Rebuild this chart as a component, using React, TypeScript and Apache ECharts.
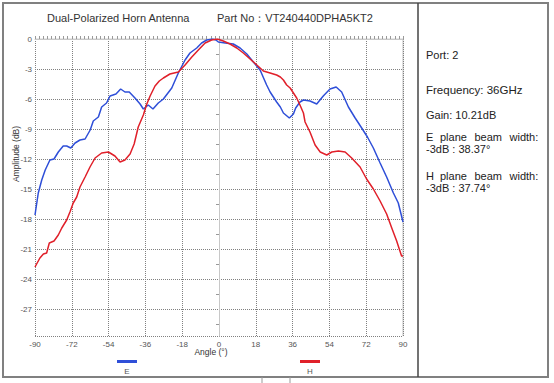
import React, { useEffect, useRef } from "react";
import * as echarts from "echarts";

const eAngles = [-90, -88.4, -86.7, -85, -82.7, -80.7, -78.6, -76.2, -74.5, -72.5, -70.4, -68, -65.5, -63, -61.5, -59, -57.4, -55, -53.3, -50.4, -48.1, -46, -43.9, -41.1, -38.6, -37, -34.6, -32.3, -29.7, -27.2, -23.1, -19.9, -16.6, -14.2, -10.9, -8.5, -6, -3.1, -1.5, -0.3, 3, 7, 10.3, 13.6, 16.8, 20.1, 23.3, 25, 28.2, 30, 31.5, 34.4, 36.4, 37.5, 39.6, 41.3, 44.5, 47.8, 51, 54.3, 57.3, 60, 63.3, 66.6, 69.8, 72.6, 75.5, 78.8, 82, 85.3, 87.7, 90];
const eValues = [-17.6, -15.4, -14.1, -13.1, -12.1, -12.0, -11.3, -10.7, -10.7, -10.9, -10.4, -10.1, -10.0, -9.1, -8.2, -7.8, -6.8, -6.4, -5.7, -5.5, -5.0, -5.3, -5.3, -5.9, -6.5, -7.0, -6.6, -7.0, -6.4, -6.0, -4.9, -3.4, -2.1, -1.4, -0.9, -0.4, -0.1, 0, -0.1, -0.3, -0.4, -0.5, -0.9, -1.5, -2.3, -3.1, -4.6, -5.3, -6.3, -6.8, -7.4, -7.9, -7.5, -6.9, -6.3, -6.1, -6.2, -6.5, -5.7, -5.0, -4.8, -5.3, -6.8, -7.9, -8.9, -9.8, -10.9, -12.4, -13.8, -15.4, -16.4, -18.3];

const hAngles = [-90, -87.6, -85.9, -84.3, -83, -80.7, -78.6, -76.9, -74.5, -72.9, -71.3, -69.6, -68, -65.5, -63.1, -60.6, -57.4, -54.1, -50.9, -48.4, -46, -43.5, -41.5, -39.5, -37, -35.5, -33.7, -31.3, -29.2, -27.2, -24, -19.9, -16.6, -13.3, -10.1, -6.8, -3.6, -0.8, 2.1, 5.4, 8.7, 11.9, 15.2, 18.5, 21.7, 25, 28.2, 30, 31.5, 33.1, 34.8, 36.4, 38, 39.6, 41.3, 42.1, 44.5, 47, 49.5, 52.7, 55.2, 58.4, 61.7, 64.9, 69, 72.2, 75.5, 78.8, 82, 84.5, 86.9, 88.5, 89.3, 90];
const hValues = [-22.8, -21.9, -21.5, -21.4, -20.4, -20.2, -19.6, -18.9, -18.1, -17.3, -16.4, -15.8, -14.8, -13.8, -12.8, -11.9, -11.4, -11.3, -11.7, -12.3, -12.1, -11.5, -10.5, -8.8, -7.6, -6.6, -5.7, -4.7, -4.2, -3.9, -3.5, -3.3, -2.6, -1.8, -1.1, -0.4, -0.1, 0, -0.2, -0.5, -0.9, -1.4, -2.0, -2.6, -3.2, -3.4, -3.6, -3.8, -4.1, -4.6, -4.9, -5.4, -5.9, -6.6, -7.4, -8.3, -9.3, -10.6, -11.3, -11.6, -11.3, -11.2, -11.3, -11.9, -12.8, -14.0, -15.0, -16.2, -17.5, -18.9, -20.2, -21.2, -21.7, -21.7];

const seriesNames = ["E", "H"];
const seriesColors = ["#2f4fd8", "#e0202a"];
const titleText = "Dual-Polarized Horn Antenna";
const partText = "Part No：VT240440DPHA5KT2";
const infoPort = "Port: 2";
const infoFreq = "Frequency: 36GHz";
const infoGain = "Gain: 10.21dB";
const infoEWords = ["E", "plane", "beam", "width:"];
const infoEValue = "-3dB : 38.37°";
const infoHWords = ["H", "plane", "beam", "width:"];
const infoHValue = "-3dB : 37.74°";

export default function App() {
  const ref = useRef<HTMLDivElement>(null);
  useEffect(() => {
    if (!ref.current) return;
    const chart = echarts.init(ref.current, undefined, { renderer: "svg" });
    const font = "Liberation Sans, Arial, sans-serif";
    const txt = (x: number, y: number, text: string, size: number, color: string, align = "left") => ({
      type: "text",
      x,
      y,
      style: { text, fontSize: size, lineHeight: size, fill: color, fontFamily: font, align, verticalAlign: "middle" },
    });
    const wordsX = [426, 440, 474.5, 509.5];
    chart.setOption({
      animation: false,
      backgroundColor: "#ffffff",
      grid: { left: 35, right: 151, top: 39, bottom: 47, show: false },
      xAxis: {
        type: "value",
        min: -90,
        max: 90,
        interval: 18,
        axisLine: { show: true, lineStyle: { color: "#c8c8c8", width: 1 } },
        axisTick: { show: true, inside: true, length: 3, lineStyle: { color: "#999" } },
        minorTick: { show: true, splitNumber: 9, length: 3, lineStyle: { color: "#999" } },
        axisLabel: { fontSize: 8, color: "#555", margin: 4, fontFamily: font },
        splitLine: { show: true, lineStyle: { type: "dotted", color: "#808080", width: 1 } },
      },
      yAxis: {
        type: "value",
        min: -29.7,
        max: 0,
        splitNumber: 10,
        axisLine: { show: true, lineStyle: { color: "#c8c8c8", width: 1 } },
        axisTick: { show: false },
        minorTick: { show: true, splitNumber: 2, length: 3, lineStyle: { color: "#999" } },
        axisLabel: {
          fontSize: 8,
          color: "#555",
          margin: 3,
          fontFamily: font,
          formatter: (v: number) => (Math.abs(Math.round(v) - v) < 1e-6 && Math.round(v) % 3 === 0 ? String(Math.round(v)) : ""),
        },
        splitLine: { show: true, lineStyle: { type: "dotted", color: "#808080", width: 1 } },
      },
      series: [
        {
          name: seriesNames[0],
          type: "line",
          showSymbol: false,
          data: eAngles.map((a, i) => [a, eValues[i]]),
          lineStyle: { color: seriesColors[0], width: 1.5 },
          itemStyle: { color: seriesColors[0] },
        },
        {
          name: seriesNames[1],
          type: "line",
          showSymbol: false,
          data: hAngles.map((a, i) => [a, hValues[i]]),
          lineStyle: { color: seriesColors[1], width: 1.5 },
          itemStyle: { color: seriesColors[1] },
        },
      ],
      graphic: [
        { type: "rect", shape: { x: 3, y: 3, width: 545, height: 374 }, style: { fill: "none", stroke: "#808080", lineWidth: 2 } },
        { type: "line", shape: { x1: 418, y1: 3, x2: 418, y2: 377 }, style: { stroke: "#444", lineWidth: 1.5 } },
        { type: "line", shape: { x1: 35, y1: 39, x2: 403, y2: 39 }, style: { stroke: "#d0d0d0", lineWidth: 1 } },
        { type: "line", shape: { x1: 403, y1: 39, x2: 403, y2: 336 }, style: { stroke: "#c0c0c0", lineWidth: 1 } },
        { type: "line", shape: { x1: 262, y1: 377, x2: 262, y2: 383 }, style: { stroke: "#999", lineWidth: 1 } },
        { type: "line", shape: { x1: 290, y1: 377, x2: 290, y2: 383 }, style: { stroke: "#999", lineWidth: 1 } },
        txt(47, 18, titleText, 11, "#333"),
        txt(217, 18, partText, 11, "#333"),
        { type: "text", x: 16, y: 154, rotation: Math.PI / 2, style: { text: "Amplitude (dB)", fontSize: 8.5, fill: "#333", fontFamily: font, align: "center", verticalAlign: "middle" } },
        txt(211, 352, "Angle (°)", 8.5, "#333", "center"),
        { type: "rect", shape: { x: 117, y: 360, width: 20, height: 3 }, style: { fill: seriesColors[0] } },
        txt(127, 371, seriesNames[0], 8, "#555", "center"),
        { type: "rect", shape: { x: 300, y: 360, width: 20, height: 3 }, style: { fill: seriesColors[1] } },
        txt(310, 371, seriesNames[1], 8, "#555", "center"),
        txt(426, 55, infoPort, 11, "#222"),
        txt(426, 90, infoFreq, 11.5, "#222"),
        txt(426, 115, infoGain, 11, "#222"),
        ...infoEWords.map((w, i) => txt(wordsX[i], 137, w, 11, "#222")),
        txt(426, 149, infoEValue, 11, "#222"),
        ...infoHWords.map((w, i) => txt(wordsX[i], 176, w, 11, "#222")),
        txt(426, 188, infoHValue, 11, "#222"),
      ],
    });
    return () => chart.dispose();
  }, []);
  return <div ref={ref} style={{ position: "fixed", left: 0, top: 0, width: 554, height: 383, background: "#fff" }} />;
}
